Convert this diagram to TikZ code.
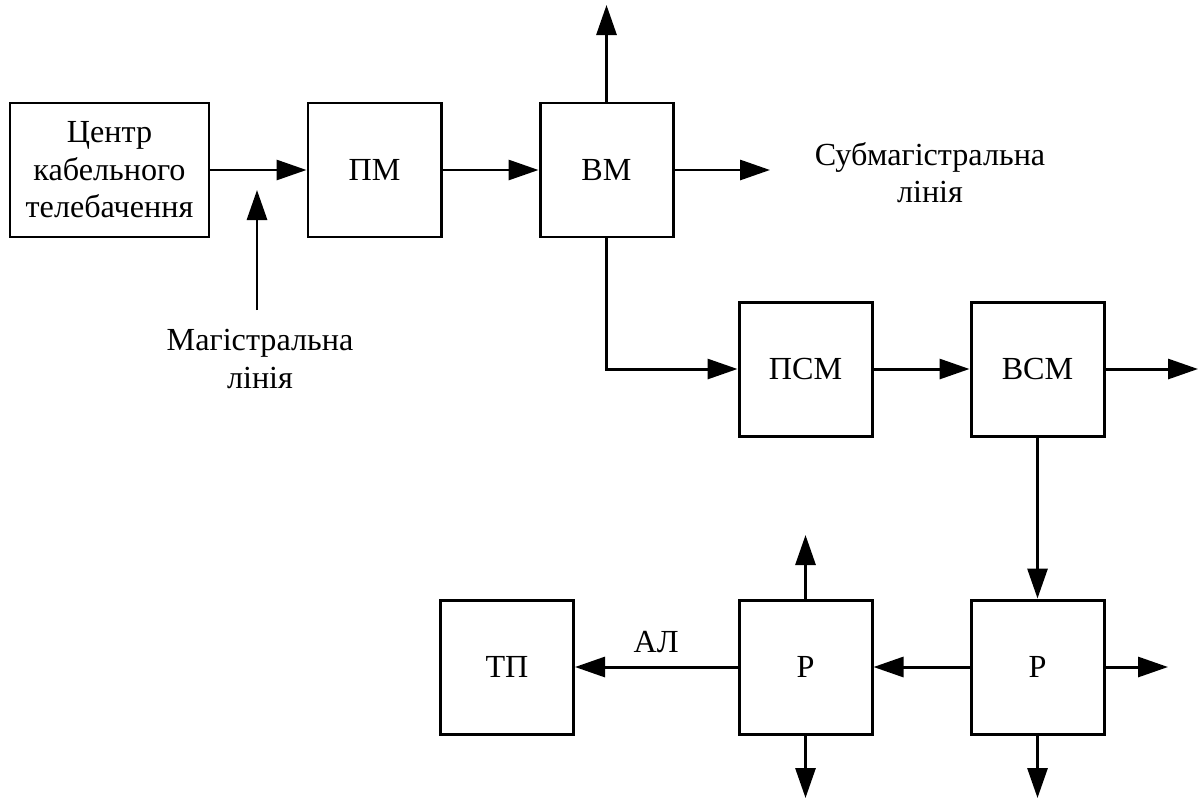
\documentclass[tikz,border=0pt]{standalone}
\usepackage{fontspec}
\setmainfont{Liberation Serif}
\usetikzlibrary{arrows.meta}
\tikzset{
    block/.style={draw, line width=1.7pt, minimum height=2.68cm,
                  minimum width=2.66cm, inner sep=4pt, align=center,
                  font=\fontsize{18.3}{21.4}\selectfont},
    flow/.style={-{Triangle[length=0.6cm, width=0.4cm]}, line width=1.7pt},
    note/.style={align=center, font=\fontsize{18.3}{21.4}\selectfont},
}
\begin{document}
\begin{tikzpicture}

    \useasboundingbox (0,0) rectangle (24,-15.96);

    \node[block, minimum width=3.98cm] (centre) at (2.19,-3.4)
        {Центр\\кабельного\\телебачення};
    \node[block] (pm) at (7.49,-3.4) {ПМ};
    \node[block] (vm) at (12.13,-3.4) {ВМ};
    \node[block] (psm) at (16.11,-7.38) {ПСМ};
    \node[block] (vsm) at (20.75,-7.38) {ВСМ};
    \node[block] (r2) at (20.75,-13.34) {Р};
    \node[block] (r1) at (16.11,-13.34) {Р};
    \node[block] (tp) at (10.14,-13.34) {ТП};

    \node[note] (mag) at (5.2,-7.18) {Магістральна\\лінія};
    \node[note] (submag) at (18.6,-3.45) {Субмагістральна\\лінія};

    \coordinate (magin) at (5.14,-6.2);
    \coordinate (magtip) at (5.14,-3.8);
    \coordinate (vmup) at (12.13,-0.1);
    \coordinate (vmout) at (15.4,-3.4);
    \coordinate (vsmout) at (23.96,-7.38);
    \coordinate (r2out) at (23.36,-13.34);
    \coordinate (r2down) at (20.75,-15.96);
    \coordinate (r1up) at (16.11,-10.7);
    \coordinate (r1down) at (16.11,-15.96);

    \draw[flow] (centre.east) -- (pm.west);
    \draw[flow] (magin) -- (magtip);
    \draw[flow] (pm.east) -- (vm.west);
    \draw[flow] (vm.north) -- (vmup);
    \draw[flow] (vm.east) -- (vmout);
    \draw[flow] (vm.south) |- (psm.west);
    \draw[flow] (psm.east) -- (vsm.west);
    \draw[flow] (vsm.east) -- (vsmout);
    \draw[flow] (vsm.south) -- (r2.north);
    \draw[flow] (r2.east) -- (r2out);
    \draw[flow] (r2.south) -- (r2down);
    \draw[flow] (r2.west) -- (r1.east);
    \draw[flow] (r1.north) -- (r1up);
    \draw[flow] (r1.south) -- (r1down);
    \draw[flow] (r1.west) -- node[above, note, yshift=4pt] {АЛ} (tp.east);

\end{tikzpicture}
\end{document}
